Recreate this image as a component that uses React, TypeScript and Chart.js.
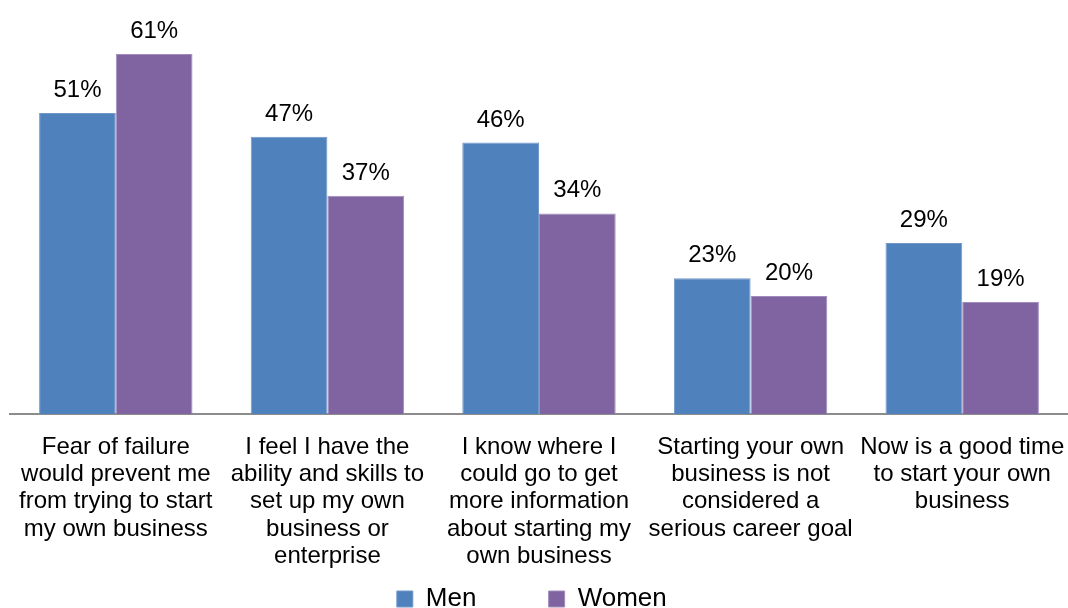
import React, { useEffect, useRef } from "react";
import { Chart, registerables } from "chart.js";

Chart.register(...registerables);

const categories: string[][] = [
  ["Fear of failure", "would prevent me", "from trying to start", "my own business"],
  ["I feel I have the", "ability and skills to", "set up my own", "business or", "enterprise"],
  ["I know where I", "could go to get", "more information", "about starting my", "own business"],
  ["Starting your own", "business is not", "considered a", "serious career goal"],
  ["Now is a good time", "to start your own", "business"],
];
const menValues = [51, 47, 46, 23, 29];
const womenValues = [61, 37, 34, 20, 19];
const seriesNames = ["Men", "Women"];

const FONT = "'Liberation Sans', Arial, sans-serif";

const dataLabelPlugin = {
  id: "dataLabels",
  afterDatasetsDraw(chart: any) {
    const ctx = chart.ctx;
    ctx.save();
    ctx.font = `24px ${FONT}`;
    ctx.fillStyle = "#000";
    ctx.textAlign = "center";
    ctx.textBaseline = "alphabetic";
    chart.data.datasets.forEach((ds: any, i: number) => {
      const meta = chart.getDatasetMeta(i);
      meta.data.forEach((bar: any, j: number) => {
        ctx.fillText(`${ds.data[j]}%`, bar.x, bar.y - 16);
      });
    });
    ctx.restore();
  },
};

export default function App() {
  const ref = useRef<HTMLCanvasElement>(null);
  useEffect(() => {
    if (!ref.current) return;
    const chart = new Chart(ref.current, {
      type: "bar",
      data: {
        labels: categories,
        datasets: [
          {
            label: seriesNames[0] + "          ",
            data: menValues,
            backgroundColor: "#4F81BD",
            borderColor: "#7298c9",
            borderWidth: 1,
            categoryPercentage: 0.725,
            barPercentage: 1,
          },
          {
            label: seriesNames[1] + "  ",
            data: womenValues,
            backgroundColor: "#8064A2",
            borderColor: "#a08cbb",
            borderWidth: 1,
            categoryPercentage: 0.725,
            barPercentage: 1,
          },
        ],
      },
      options: {
        animation: false,
        responsive: false,
        maintainAspectRatio: false,
        layout: { padding: { left: 10, right: 0, top: 1, bottom: -14 } },
        scales: {
          y: { display: false, min: 0, max: 70 },
          x: {
            grid: { display: false, drawTicks: false },
            border: { display: true, color: "#8c8c8c", width: 2 },
            ticks: {
              color: "#000",
              padding: 20,
              maxRotation: 0,
              autoSkip: false,
              font: { family: FONT, size: 24, lineHeight: 1.13 },
            },
            afterFit(scale: any) {
              scale.paddingRight = 0;
              scale.paddingLeft = 0;
              scale.height = 172;
            },
          },
        },
        plugins: {
          legend: {
            position: "bottom",
            labels: {
              color: "#000",
              boxWidth: 16,
              boxHeight: 16,
              padding: 0,
              font: { family: FONT, size: 26, lineHeight: 1 },
            },
          },
          tooltip: { enabled: false },
        },
      },
      plugins: [dataLabelPlugin],
    });
    return () => chart.destroy();
  }, []);
  return (
    <div style={{ position: "absolute", left: 0, top: 0, width: 1068, height: 608 }}>
      <canvas ref={ref} width={1068} height={608} style={{ display: "block" }} />
    </div>
  );
}
